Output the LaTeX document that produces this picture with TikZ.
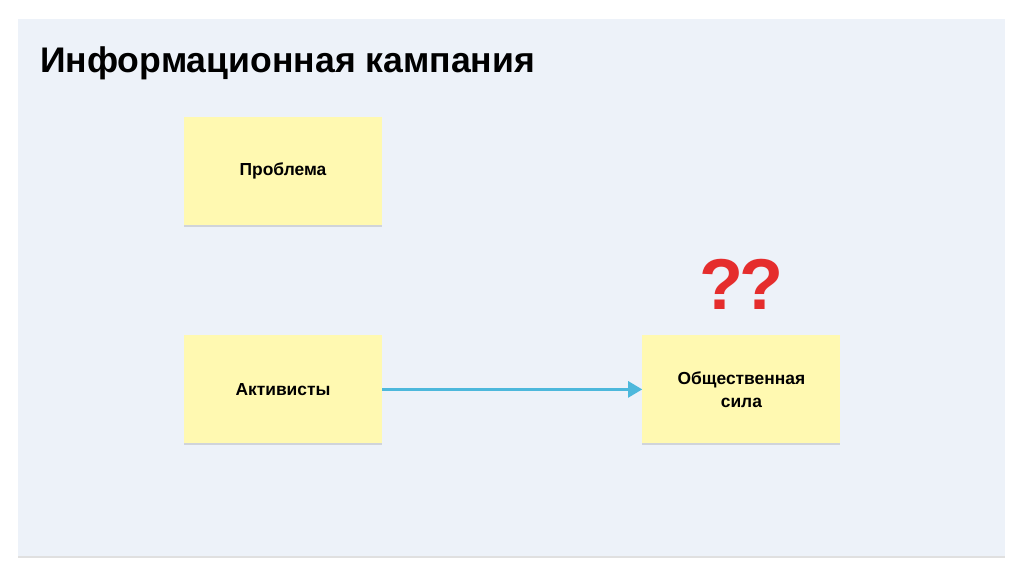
\documentclass[tikz,border=0pt]{standalone}
\usepackage{fontspec}
\setmainfont{Liberation Sans}
\usetikzlibrary{arrows.meta, positioning, shadows}
\definecolor{panelbg}{HTML}{EDF2F9}
\definecolor{sticky}{HTML}{FFF9B1}
\definecolor{flowblue}{HTML}{4DB8DC}
\definecolor{alarmred}{HTML}{E52D2D}
\tikzset{%
	panel/.style={fill=panelbg, minimum width=987pt, minimum height=537pt, inner sep=0pt,%
		drop shadow={shadow xshift=0pt, shadow yshift=-2pt, fill=black, opacity=0.12}},
	title/.style={font=\fontsize{35.6}{40}\selectfont\bfseries, inner sep=0pt, anchor=west},
	note/.style={fill=sticky, minimum width=198pt, minimum height=108pt, inner sep=2pt,%
		align=center, font=\fontsize{17.4}{23}\selectfont\bfseries, node distance=110pt and 260pt,%
		drop shadow={shadow xshift=0pt, shadow yshift=-2pt, fill=black, opacity=0.12}},
	flow/.style={-{Triangle[length=14pt, width=16pt]}, draw=flowblue, line width=2.6pt},
	doubt/.style={text=alarmred, font=\fontsize{72}{72}\selectfont\bfseries, inner sep=0pt}
}
\begin{document}
\begin{tikzpicture}[x=1pt, y=1pt]
	\useasboundingbox (0,0) rectangle (1024,-576);

	%background panel
	\node[panel] (board) at (511.5,-287.5) {};
	\node[title] (heading) at (40,-63) {Информационная кампания};

	%notes
	\node[note] (problem) at (283,-171) {Проблема};
	\node[note, below=of problem] (activists) {Активисты};
	\node[note, right=of activists] (force) {Общественная\\сила};

	\draw[flow] (activists) to (force);

	%question marks
	\node[doubt, above=26pt of force] (question) {?\kern-4pt?};

\end{tikzpicture}
\end{document}
